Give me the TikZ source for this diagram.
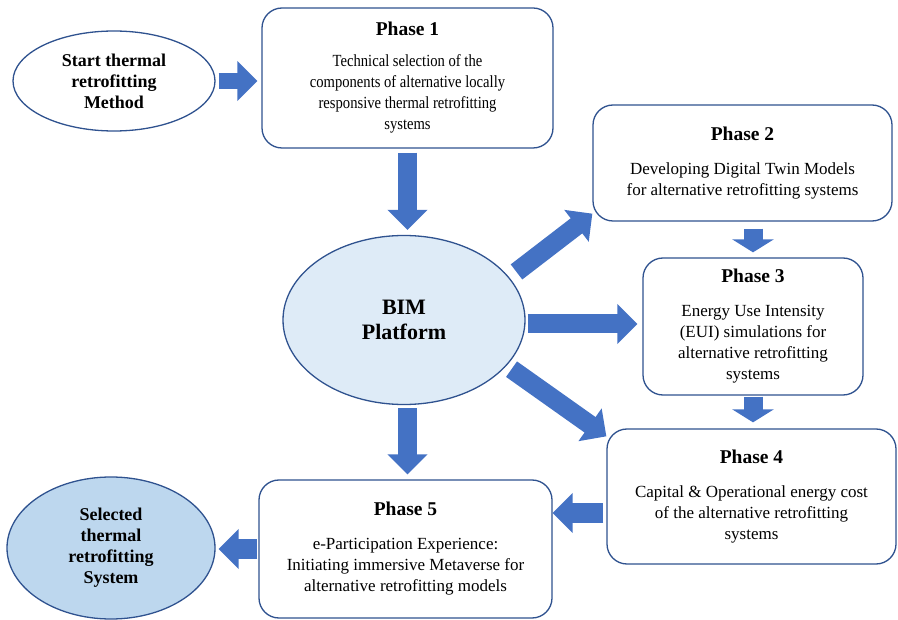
\documentclass[tikz,border=0pt]{standalone}
\usepackage{fontspec}
\setmainfont{Liberation Serif}
\newfontfamily\narrowfont[FakeStretch=0.86]{Liberation Serif}
\usetikzlibrary{arrows.meta,shapes.geometric}
\definecolor{edgeblue}{HTML}{2F528F}
\definecolor{arrowblue}{HTML}{4472C4}
\definecolor{bimfill}{HTML}{DEEBF7}
\definecolor{endfill}{HTML}{BDD7EE}
\newcommand\phasetitle{\normalfont\fontsize{19.5}{21}\selectfont\bfseries}
\tikzset{%
  % Specifications for style of nodes:
           base/.style = {draw=edgeblue, line width=1.3pt, inner sep=0pt,
                          align=center},
       phasebox/.style = {base, rectangle, rounded corners=20pt, fill=white,
                          font=\fontsize{17}{21}\selectfont},
           oval/.style = {base, ellipse, fill=white,
                          font=\fontsize{18}{21}\selectfont\bfseries},
  % Specifications for the fat arrows:
     blockarrow/.style = {draw=arrowblue, line width=19pt,
                          -{Triangle[width=39pt,length=20pt]}},
     shortarrow/.style = {draw=arrowblue, line width=19pt,
                          -{Triangle[width=41pt,length=13pt]}},
}

\begin{document}
\begin{tikzpicture}[x=1pt, y=-1pt]
  \useasboundingbox (0,0) rectangle (898,620);
  % Specification of nodes (position, etc.)

  \node (start) [oval, minimum width=202pt, minimum height=100pt] at (114,81)
        {Start thermal\\retrofitting\\Method};
  \node (p1)    [phasebox, minimum width=291pt, minimum height=140pt,
                 font=\narrowfont\fontsize{17}{21}\selectfont] at (407.5,78)
        {{\phasetitle Phase 1}\\[10pt]Technical selection of the\\components of alternative locally\\responsive thermal retrofitting\\systems};
  \node (bim)   [oval, fill=bimfill, minimum width=242pt, minimum height=169pt,
                 font=\fontsize{22}{25}\selectfont\bfseries] at (404,320)
        {BIM\\Platform};
  \node (p2)    [phasebox, minimum width=299pt, minimum height=116pt] at (742.5,163)
        {{\phasetitle Phase 2}\\[13pt]Developing Digital Twin Models\\for alternative retrofitting systems};
  \node (p3)    [phasebox, minimum width=220pt, minimum height=137pt] at (753,326.5)
        {{\phasetitle Phase 3}\\[13pt]Energy Use Intensity\\(EUI) simulations for\\alternative retrofitting\\systems};
  \node (p4)    [phasebox, minimum width=289pt, minimum height=135pt] at (751.5,496.5)
        {{\phasetitle Phase 4}\\[13pt]Capital \& Operational energy cost\\of the alternative retrofitting\\systems};
  \node (p5)    [phasebox, minimum width=293pt, minimum height=138pt] at (405.5,549)
        {{\phasetitle Phase 5}\\[13pt]e-Participation Experience:\\Initiating immersive Metaverse for\\alternative retrofitting models};
  \node (sel)   [oval, fill=endfill, minimum width=208pt, minimum height=142pt] at (111,548)
        {Selected\\thermal\\retrofitting\\System};

  \draw[blockarrow, line width=16pt, shorten <=3pt, shorten >=4pt]
        (start.east) -- (start.east -| p1.west);
  \draw[blockarrow, shorten <=4pt, shorten >=5pt]   (p1.south) -- (p1.south |- bim.north);
  \draw[blockarrow, shorten <=3pt, shorten >=5pt]   (p1.south |- bim.south) -- (p1.south |- p5.north);
  \draw[blockarrow, shorten <=2pt, shorten >=5pt]
        ([yshift=-4pt]bim.east) -- ([yshift=-4pt]bim.east -| p3.west);
  \draw[blockarrow, shorten <=9pt]                  (bim.22) -- ([yshift=8pt]p2.south west);
  \draw[blockarrow, shorten <=6pt]                  (bim.-24) -- ([yshift=-8pt]p4.north west);
  \draw[shortarrow, shorten <=7pt, shorten >=5pt]   (p3.north |- p2.south) -- (p3.north);
  \draw[shortarrow, shorten <=1pt, shorten >=6pt]   (p3.south) -- (p3.south |- p4.north);
  \draw[blockarrow, line width=20pt, shorten <=3pt]
        ([yshift=-16.5pt]p4.west) -- ([yshift=-16.5pt]p4.west -| p5.east);
  \draw[blockarrow, shorten <=1pt, shorten >=3pt]   (p5.west) -- (p5.west -| sel.east);

\end{tikzpicture}
\end{document}
